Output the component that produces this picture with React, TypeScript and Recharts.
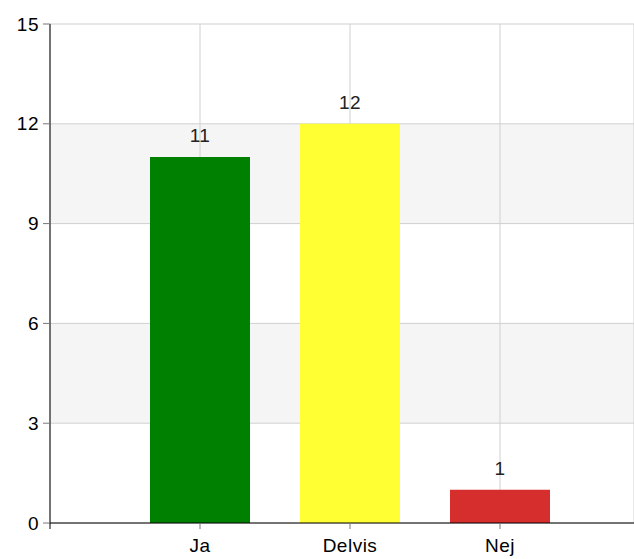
import React from 'react';
import { BarChart, Bar, XAxis, YAxis, CartesianGrid, Cell, LabelList } from 'recharts';

const categories = ['Ja', 'Delvis', 'Nej'];
const values = [11, 12, 1];
const colors = ['#008000', '#FFFF33', '#D62D2D'];
const yTicks = [0, 3, 6, 9, 12, 15];

const data = categories.map((name, i) => ({ name, value: values[i], color: colors[i] }));

const FONT = '"Liberation Sans", Arial, sans-serif';
const FONT_SIZE = 19;
const LETTER_SPACING = 0.5;
const Y_TICK_SIZE = 7;
const Y_TICK_MARGIN = 4;

const YTick = (props: any) => {
  const { x, y, payload } = props;
  const axisX = x + Y_TICK_SIZE + Y_TICK_MARGIN;
  return (
    <g>
      <text
        x={x}
        y={y}
        dy="0.35em"
        textAnchor="end"
        fill="#000"
        fontSize={FONT_SIZE}
        fontFamily={FONT}
        letterSpacing={LETTER_SPACING}
      >
        {payload.value}
      </text>
      {payload.value === 0 ? <line x1={axisX} y1={y} x2={axisX} y2={y + 6} stroke="#000" /> : null}
    </g>
  );
};

export default function App() {
  return (
    <div style={{ position: 'absolute', left: 0, top: 0, width: 634, height: 559 }}>
      <BarChart
        width={634}
        height={559}
        data={data}
        margin={{ top: 24, right: 0, bottom: 0, left: 0 }}
        style={{ fontFamily: FONT }}
      >
        <CartesianGrid stroke="#d0d0d0" horizontalFill={['#ffffff', '#f5f5f5']} />
        <XAxis
          dataKey="name"
          height={36}
          padding={{ left: 75, right: 59 }}
          tickSize={6}
          tickMargin={10}
          axisLine={{ stroke: '#000' }}
          tickLine={{ stroke: '#777' }}
          tick={{ fill: '#000', fontSize: FONT_SIZE, fontFamily: FONT, letterSpacing: LETTER_SPACING }}
        />
        <YAxis
          width={50}
          domain={[0, 15]}
          ticks={yTicks}
          interval={0}
          tickSize={Y_TICK_SIZE}
          tickMargin={Y_TICK_MARGIN}
          axisLine={{ stroke: '#000' }}
          tickLine={{ stroke: '#777' }}
          tick={<YTick />}
        />
        <Bar dataKey="value" barSize={100} isAnimationActive={false}>
          {data.map((d) => (
            <Cell key={d.name} fill={d.color} />
          ))}
          <LabelList
            dataKey="value"
            position="top"
            offset={15}
            fill="#222"
            fontSize={FONT_SIZE}
            fontFamily={FONT}
            letterSpacing={LETTER_SPACING}
          />
        </Bar>
      </BarChart>
    </div>
  );
}
